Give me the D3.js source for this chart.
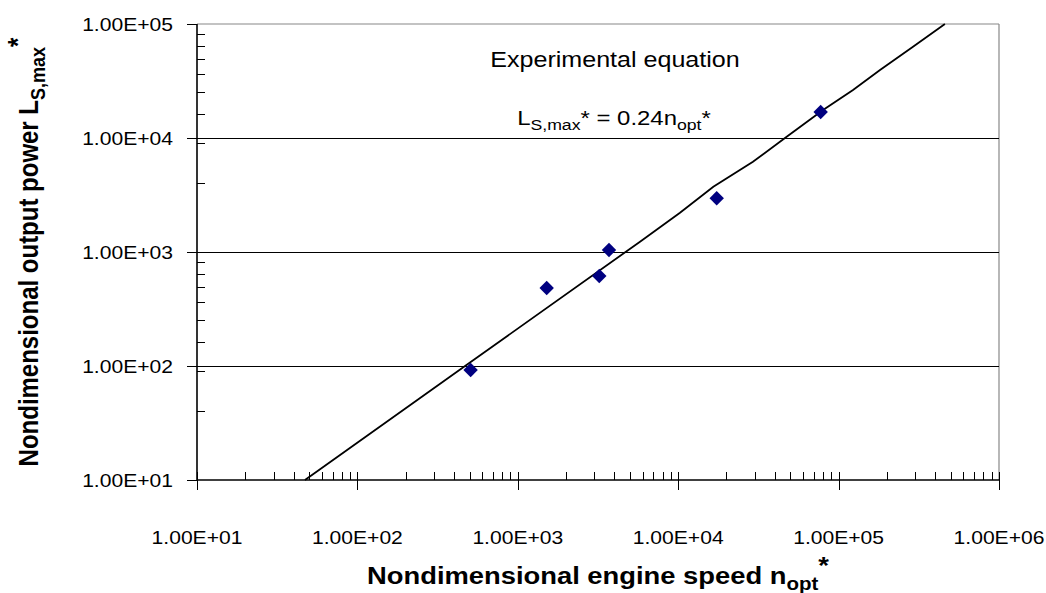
<!DOCTYPE html>
<html>
<head>
<meta charset="utf-8">
<script src="https://cdn.jsdelivr.net/npm/d3@7"></script>
<style>
  html, body { margin: 0; padding: 0; background: #fff; }
  svg { display: block; font-family: "Liberation Sans", Arial, sans-serif; }
</style>
</head>
<body>
<svg id="chart" width="1046" height="593"></svg>
<script>
// ---- data ----
const speedN = [508, 1514, 3221, 3703, 17380, 77300];
const powerL = [92.2, 483, 616, 1042, 2958, 16900];

// experimental-equation line, points
const lineN = [47.1, 469, 5780, 10260, 16560, 29240, 47000, 80000, 123000, 181200, 291000, 460000];
const lineL = [10, 100, 1231, 2213, 3741, 6197, 10140, 17600, 26360, 39500, 63200, 100000];

const xMajorTicks = [10, 100, 1000, 10000, 100000, 1000000];
const yMajorTicks = [10, 100, 1000, 10000, 100000];
const xMinorTicks = [];
xMajorTicks.slice(0, -1).forEach(d => { for (let k = 2; k <= 9; k++) xMinorTicks.push(d * k); });
const yMinorTicks = [40, 90, 163, 252, 366, 492, 644, 822, 4000, 9000, 16300, 25200, 36600, 49200, 64400, 82200];
const tickLabel = v => "1.00E+" + String(Math.round(Math.log10(v))).padStart(2, "0");

// ---- layout ----
const pLeft = 197, pRight = 999, pTop = 24, pBottom = 480;
const SX = 1.14; // horizontal stretch of the original's lettering
const svg = d3.select("#chart");
const x = d3.scaleLog().domain([10, 1e6]).range([pLeft, pRight]);
const y = d3.scaleLog().domain([10, 1e5]).range([pBottom, pTop]);

// plot border (top/right grey)
svg.append("line").attr("x1", pLeft).attr("x2", pRight).attr("y1", pTop).attr("y2", pTop)
  .attr("stroke", "#888").attr("stroke-width", 1.2);
svg.append("line").attr("x1", pRight).attr("x2", pRight).attr("y1", pTop).attr("y2", pBottom)
  .attr("stroke", "#888").attr("stroke-width", 1.2);

// gridlines
svg.append("g").selectAll("line").data(yMajorTicks.slice(1, -1)).join("line")
  .attr("x1", pLeft).attr("x2", pRight)
  .attr("y1", d => Math.round(y(d)) + 0.5).attr("y2", d => Math.round(y(d)) + 0.5)
  .attr("stroke", "#000").attr("stroke-width", 1);

// y axis
const yAxis = svg.append("g");
yAxis.append("line").attr("x1", pLeft).attr("x2", pLeft).attr("y1", pTop).attr("y2", pBottom)
  .attr("stroke", "#000").attr("stroke-width", 1.6);
yAxis.selectAll(".ymaj").data(yMajorTicks).join("line").attr("class", "ymaj")
  .attr("x1", pLeft - 10).attr("x2", pLeft)
  .attr("y1", d => Math.round(y(d)) + 0.5).attr("y2", d => Math.round(y(d)) + 0.5)
  .attr("stroke", "#000").attr("stroke-width", 1);
yAxis.selectAll(".ymin").data(yMinorTicks).join("line").attr("class", "ymin")
  .attr("x1", pLeft).attr("x2", pLeft + 8)
  .attr("y1", d => Math.round(y(d)) + 0.5).attr("y2", d => Math.round(y(d)) + 0.5)
  .attr("stroke", "#000").attr("stroke-width", 1);
yAxis.selectAll("text").data(yMajorTicks).join("text")
  .attr("transform", d => `translate(173,${y(d)}) scale(${SX},1)`)
  .attr("dy", "0.36em")
  .attr("text-anchor", "end").attr("font-size", 18.5).attr("fill", "#000")
  .text(tickLabel);

// x axis
const xAxis = svg.append("g");
xAxis.append("line").attr("x1", pLeft).attr("x2", pRight).attr("y1", pBottom).attr("y2", pBottom)
  .attr("stroke", "#000").attr("stroke-width", 1.6);
xAxis.selectAll(".xmaj").data(xMajorTicks).join("line").attr("class", "xmaj")
  .attr("x1", d => Math.round(x(d)) + 0.5).attr("x2", d => Math.round(x(d)) + 0.5)
  .attr("y1", pBottom - 8).attr("y2", pBottom + 10)
  .attr("stroke", "#000").attr("stroke-width", 1);
xAxis.selectAll(".xmin").data(xMinorTicks).join("line").attr("class", "xmin")
  .attr("x1", d => Math.round(x(d)) + 0.5).attr("x2", d => Math.round(x(d)) + 0.5)
  .attr("y1", pBottom - 8).attr("y2", pBottom)
  .attr("stroke", "#000").attr("stroke-width", 1);
xAxis.selectAll("text").data(xMajorTicks).join("text")
  .attr("transform", d => `translate(${x(d)},544) scale(${SX},1)`)
  .attr("text-anchor", "middle").attr("font-size", 18.5).attr("fill", "#000")
  .text(tickLabel);

// equation line
const pts = lineN.map((n, i) => [n, lineL[i]]);
svg.append("path").datum(pts)
  .attr("d", d3.line().x(d => x(d[0])).y(d => y(d[1])))
  .attr("fill", "none").attr("stroke", "#000").attr("stroke-width", 1.8);

// markers
const sq = d3.symbol().type(d3.symbolSquare).size(104);
svg.append("g").selectAll("path").data(speedN.map((n, i) => [n, powerL[i]])).join("path")
  .attr("d", sq)
  .attr("transform", d => `translate(${x(d[0])},${y(d[1])}) rotate(45)`)
  .attr("fill", "#000080");

// annotations
svg.append("text").attr("transform", `translate(615,67) scale(${SX},1)`).attr("text-anchor", "middle")
  .attr("font-size", 22).attr("fill", "#000").text("Experimental equation");
const eq = svg.append("text").attr("transform", `translate(614,125) scale(${SX},1)`).attr("text-anchor", "middle")
  .attr("font-size", 21).attr("fill", "#000");
eq.append("tspan").text("L");
eq.append("tspan").attr("font-size", 15.5).attr("dy", 5).text("S,max");
eq.append("tspan").attr("dy", -5).text("* = 0.24n");
eq.append("tspan").attr("font-size", 15.5).attr("dy", 5).text("opt");
eq.append("tspan").attr("dy", -5).text("*");

// x title
const xt = svg.append("text").attr("transform", `translate(598,584) scale(${SX},1)`).attr("text-anchor", "middle")
  .attr("font-size", 24).attr("font-weight", "bold").attr("fill", "#000");
xt.append("tspan").text("Nondimensional engine speed n");
xt.append("tspan").attr("font-size", 18).attr("dy", 6).text("opt");
xt.append("tspan").attr("dy", -16).text("*");

// y title
const yt = svg.append("text").attr("transform", `translate(38,${(pTop + pBottom) / 2}) scale(${SX},1) rotate(-90)`)
  .attr("text-anchor", "middle")
  .attr("font-size", 24).attr("font-weight", "bold").attr("fill", "#000");
yt.append("tspan").text("Nondimensional output power L");
yt.append("tspan").attr("font-size", 18).attr("dy", 6).text("S,max");
yt.append("tspan").attr("dy", -16).text("*");
</script>
</body>
</html>
